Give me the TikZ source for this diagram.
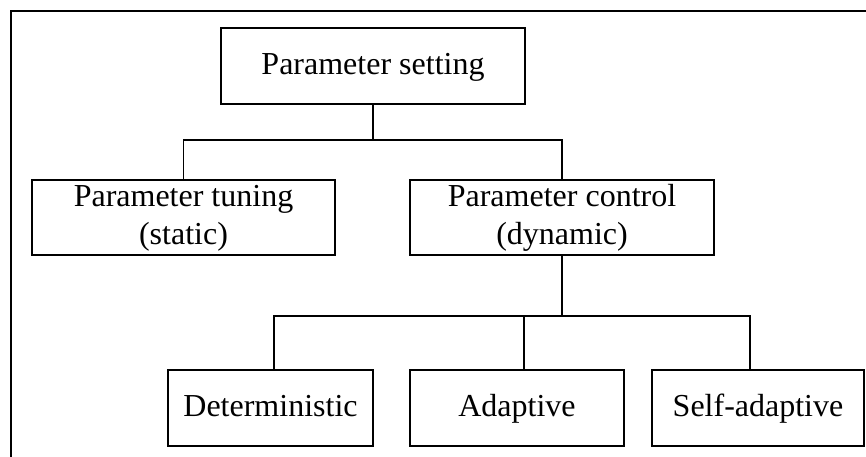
\documentclass[tikz,border=0pt]{standalone}
\usepackage{fontspec}
\setmainfont{Liberation Serif}
\begin{document}
\begin{tikzpicture}[x=1pt,y=-1pt,
  box/.style={draw, line width=2pt, inner sep=0pt, minimum height=76pt,
    align=center, font=\fontsize{32}{38}\selectfont,
    text height=23pt, text depth=7pt},
  twoline/.style={minimum height=75pt, text height=57pt, text depth=4pt},
  link/.style={line width=1.8pt}]
\useasboundingbox (0,0) rectangle (866,456);
% outer frame
\draw[line width=2pt] (11,460) |- (870,11);
% boxes
\node[box, minimum width=304pt] (ps)  at (373,66)    {Parameter setting};
\node[box, twoline, minimum width=303pt] (pt)  at (183.5,217.5) {Parameter tuning\\(static)};
\node[box, twoline, minimum width=304pt] (pc)  at (562,217.5)   {Parameter control\\(dynamic)};
\node[box, minimum width=205pt] (det) at (270.5,408) {Deterministic};
\node[box, minimum width=214pt] (ada) at (517,408)   {Adaptive};
\node[box, minimum width=212pt] (sad) at (758,408)   {Self-adaptive};
% connectors
\coordinate (j1) at (373,140);
\coordinate (j2) at (562,316);
\draw[link] (ps.south) -- (j1);
\draw[link] (pt.north) |- (j1) -| (pc.north);
\draw[link] (pc.south) -- (j2);
\draw[link] ([xshift=3.5pt]det.north) |- (j2) -| ([xshift=-8pt]sad.north);
\draw[link] ([xshift=7pt]ada.north) -- ([xshift=7pt]ada.north |- j2);
\end{tikzpicture}
\end{document}
